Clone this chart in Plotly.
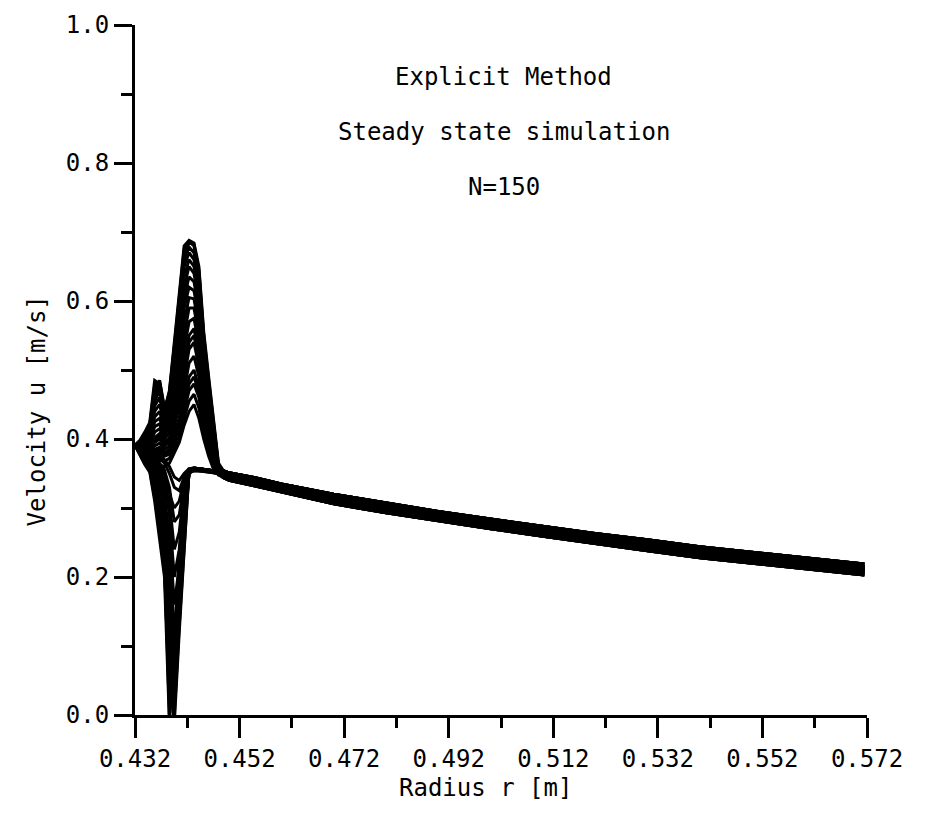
import plotly.graph_objects as go

# ---------------- data ----------------
# radial grid near the inlet (oscillating zone) and the far field
r_head = [0.43200, 0.43294, 0.43388, 0.43482, 0.43576, 0.43670, 0.43764, 0.43858,
          0.43952, 0.44046, 0.44140, 0.44234, 0.44328, 0.44422, 0.44515, 0.44609,
          0.44703, 0.44797]
r_tail = [0.44891, 0.4500, 0.4550, 0.4600, 0.4700, 0.4800, 0.4900, 0.5000, 0.5100,
          0.5200, 0.5300, 0.5400, 0.5500, 0.5600, 0.5715]

# far-field velocity bands (top .. bottom of the thick line)
tail_T1 = [0.354, 0.351, 0.344, 0.335, 0.320, 0.307, 0.295, 0.284, 0.273, 0.263, 0.254, 0.244, 0.236, 0.228, 0.219]
tail_T2 = [0.351, 0.348, 0.341, 0.332, 0.316, 0.303, 0.291, 0.281, 0.270, 0.259, 0.250, 0.240, 0.232, 0.224, 0.215]
tail_T3 = [0.349, 0.346, 0.338, 0.329, 0.313, 0.300, 0.288, 0.277, 0.266, 0.255, 0.246, 0.236, 0.228, 0.220, 0.211]
tail_T4 = [0.347, 0.343, 0.335, 0.326, 0.310, 0.297, 0.284, 0.273, 0.262, 0.251, 0.242, 0.232, 0.224, 0.216, 0.207]
tail_T5 = [0.344, 0.340, 0.332, 0.323, 0.306, 0.293, 0.281, 0.270, 0.259, 0.248, 0.238, 0.228, 0.220, 0.212, 0.203]

# snapshots with an overshoot near the inlet
head_P1 = [0.391, 0.398, 0.410, 0.424, 0.485, 0.480, 0.440, 0.470, 0.540, 0.610, 0.680, 0.688, 0.684, 0.650, 0.555, 0.490, 0.425, 0.365]
head_P10 = [0.391, 0.397, 0.408, 0.421, 0.478, 0.484, 0.442, 0.468, 0.535, 0.605, 0.675, 0.687, 0.682, 0.645, 0.550, 0.485, 0.420, 0.362]
head_P2 = [0.391, 0.396, 0.405, 0.418, 0.470, 0.485, 0.445, 0.465, 0.530, 0.600, 0.670, 0.686, 0.680, 0.640, 0.545, 0.480, 0.415, 0.360]
head_P17 = [0.391, 0.395, 0.402, 0.415, 0.462, 0.478, 0.438, 0.460, 0.520, 0.590, 0.660, 0.678, 0.670, 0.630, 0.538, 0.472, 0.410, 0.359]
head_P3 = [0.391, 0.394, 0.400, 0.412, 0.455, 0.470, 0.430, 0.455, 0.510, 0.580, 0.650, 0.670, 0.660, 0.620, 0.530, 0.465, 0.405, 0.358]
head_P11 = [0.391, 0.393, 0.398, 0.408, 0.448, 0.460, 0.425, 0.448, 0.500, 0.565, 0.635, 0.660, 0.650, 0.610, 0.522, 0.458, 0.400, 0.357]
head_P4 = [0.391, 0.392, 0.396, 0.405, 0.440, 0.450, 0.420, 0.440, 0.490, 0.550, 0.620, 0.650, 0.640, 0.600, 0.515, 0.450, 0.395, 0.356]
head_P18 = [0.391, 0.392, 0.394, 0.400, 0.432, 0.440, 0.415, 0.432, 0.480, 0.535, 0.605, 0.635, 0.628, 0.588, 0.508, 0.445, 0.392, 0.355]
head_P5 = [0.391, 0.390, 0.392, 0.398, 0.425, 0.430, 0.410, 0.425, 0.470, 0.520, 0.590, 0.620, 0.615, 0.575, 0.500, 0.440, 0.390, 0.355]
head_P12 = [0.391, 0.389, 0.390, 0.395, 0.418, 0.422, 0.405, 0.418, 0.460, 0.505, 0.570, 0.605, 0.603, 0.562, 0.490, 0.432, 0.385, 0.354]
head_P6 = [0.391, 0.388, 0.388, 0.392, 0.410, 0.415, 0.400, 0.410, 0.450, 0.490, 0.550, 0.590, 0.590, 0.550, 0.480, 0.425, 0.380, 0.354]
head_P13 = [0.391, 0.387, 0.386, 0.389, 0.402, 0.408, 0.395, 0.402, 0.440, 0.475, 0.530, 0.570, 0.575, 0.535, 0.470, 0.418, 0.376, 0.353]
head_P19 = [0.391, 0.388, 0.386, 0.387, 0.398, 0.404, 0.392, 0.398, 0.425, 0.452, 0.500, 0.540, 0.550, 0.512, 0.455, 0.407, 0.370, 0.352]
head_P7 = [0.391, 0.386, 0.384, 0.386, 0.395, 0.400, 0.390, 0.395, 0.430, 0.460, 0.510, 0.550, 0.560, 0.520, 0.460, 0.410, 0.372, 0.352]
head_P15 = [0.391, 0.386, 0.382, 0.383, 0.390, 0.394, 0.385, 0.390, 0.420, 0.445, 0.490, 0.530, 0.540, 0.505, 0.450, 0.404, 0.369, 0.351]
head_P8 = [0.391, 0.385, 0.380, 0.380, 0.385, 0.388, 0.380, 0.385, 0.410, 0.430, 0.470, 0.510, 0.520, 0.490, 0.440, 0.398, 0.366, 0.350]
head_P16 = [0.391, 0.383, 0.377, 0.378, 0.382, 0.384, 0.378, 0.382, 0.402, 0.420, 0.455, 0.490, 0.500, 0.475, 0.430, 0.392, 0.363, 0.350]
head_P20 = [0.391, 0.385, 0.379, 0.377, 0.380, 0.382, 0.377, 0.380, 0.398, 0.415, 0.448, 0.480, 0.490, 0.468, 0.425, 0.388, 0.362, 0.349]
head_P9 = [0.391, 0.384, 0.378, 0.375, 0.378, 0.380, 0.375, 0.378, 0.395, 0.410, 0.440, 0.470, 0.480, 0.460, 0.420, 0.385, 0.360, 0.349]
head_P21 = [0.391, 0.384, 0.377, 0.372, 0.371, 0.370, 0.368, 0.372, 0.388, 0.402, 0.430, 0.455, 0.465, 0.445, 0.410, 0.380, 0.358, 0.348]
head_P14 = [0.391, 0.384, 0.376, 0.370, 0.365, 0.362, 0.360, 0.365, 0.380, 0.395, 0.420, 0.440, 0.450, 0.430, 0.400, 0.375, 0.356, 0.348]

# snapshots with an undershoot near the inlet
head_D1 = [0.391, 0.376, 0.363, 0.352, 0.310, 0.255, 0.200, -0.012, 0.110, 0.230, 0.330, 0.352, 0.354, 0.354, 0.353, 0.352, 0.351, 0.350]
head_D9 = [0.391, 0.377, 0.364, 0.354, 0.316, 0.265, 0.212, 0.030, 0.095, 0.215, 0.325, 0.351, 0.354, 0.354, 0.353, 0.352, 0.351, 0.350]
head_D2 = [0.391, 0.378, 0.366, 0.356, 0.322, 0.275, 0.225, 0.000, 0.080, 0.200, 0.320, 0.350, 0.355, 0.355, 0.354, 0.353, 0.352, 0.351]
head_D10 = [0.391, 0.379, 0.368, 0.358, 0.328, 0.285, 0.238, 0.090, 0.000, 0.130, 0.250, 0.354, 0.355, 0.355, 0.354, 0.353, 0.352, 0.351]
head_D3 = [0.391, 0.380, 0.370, 0.360, 0.335, 0.295, 0.250, 0.060, -0.012, 0.120, 0.240, 0.356, 0.356, 0.355, 0.354, 0.353, 0.352, 0.351]
head_D11 = [0.391, 0.381, 0.371, 0.362, 0.340, 0.305, 0.262, 0.150, 0.040, 0.150, 0.270, 0.351, 0.356, 0.356, 0.355, 0.354, 0.353, 0.352]
head_D4 = [0.391, 0.382, 0.373, 0.364, 0.345, 0.315, 0.275, 0.120, 0.020, 0.140, 0.260, 0.352, 0.356, 0.356, 0.355, 0.354, 0.353, 0.352]
head_D12 = [0.391, 0.383, 0.375, 0.366, 0.350, 0.322, 0.288, 0.210, 0.090, 0.175, 0.290, 0.351, 0.357, 0.357, 0.356, 0.355, 0.354, 0.352]
head_D5 = [0.391, 0.384, 0.376, 0.368, 0.355, 0.330, 0.300, 0.180, 0.060, 0.160, 0.280, 0.350, 0.357, 0.357, 0.356, 0.355, 0.354, 0.352]
head_D13 = [0.391, 0.385, 0.378, 0.370, 0.358, 0.338, 0.310, 0.265, 0.160, 0.215, 0.310, 0.353, 0.357, 0.357, 0.356, 0.355, 0.354, 0.353]
head_D6 = [0.391, 0.386, 0.380, 0.372, 0.362, 0.345, 0.320, 0.240, 0.120, 0.190, 0.300, 0.352, 0.357, 0.357, 0.356, 0.355, 0.354, 0.353]
head_D14 = [0.391, 0.387, 0.382, 0.374, 0.365, 0.350, 0.330, 0.310, 0.240, 0.265, 0.328, 0.355, 0.358, 0.357, 0.356, 0.355, 0.354, 0.353]
head_D7 = [0.391, 0.388, 0.383, 0.376, 0.368, 0.355, 0.340, 0.290, 0.200, 0.240, 0.320, 0.354, 0.358, 0.357, 0.356, 0.355, 0.354, 0.353]
head_D8 = [0.391, 0.389, 0.386, 0.380, 0.374, 0.365, 0.355, 0.330, 0.280, 0.290, 0.335, 0.356, 0.358, 0.357, 0.356, 0.355, 0.354, 0.353]
head_D15 = [0.391, 0.388, 0.384, 0.378, 0.370, 0.360, 0.348, 0.320, 0.300, 0.310, 0.340, 0.355, 0.357, 0.357, 0.356, 0.355, 0.354, 0.353]
head_D16 = [0.391, 0.389, 0.387, 0.383, 0.378, 0.372, 0.365, 0.350, 0.330, 0.325, 0.345, 0.356, 0.358, 0.357, 0.356, 0.355, 0.354, 0.353]
head_D17 = [0.391, 0.390, 0.388, 0.385, 0.381, 0.376, 0.370, 0.360, 0.345, 0.340, 0.350, 0.357, 0.358, 0.357, 0.356, 0.355, 0.354, 0.353]

snapshots = [
    (head_P1, tail_T1), (head_P10, tail_T1), (head_P2, tail_T2), (head_P17, tail_T2),
    (head_P3, tail_T3), (head_P11, tail_T3), (head_P4, tail_T2), (head_P18, tail_T3),
    (head_P5, tail_T4), (head_P12, tail_T4), (head_P6, tail_T3), (head_P13, tail_T2),
    (head_P19, tail_T4), (head_P7, tail_T5), (head_P15, tail_T3), (head_P8, tail_T4),
    (head_P16, tail_T2), (head_P20, tail_T2), (head_P9, tail_T3), (head_P21, tail_T3),
    (head_P14, tail_T5),
    (head_D1, tail_T5), (head_D9, tail_T5), (head_D2, tail_T4), (head_D10, tail_T3),
    (head_D3, tail_T3), (head_D11, tail_T2), (head_D4, tail_T2), (head_D12, tail_T1),
    (head_D5, tail_T1), (head_D13, tail_T4), (head_D6, tail_T2), (head_D14, tail_T3),
    (head_D7, tail_T3), (head_D8, tail_T4), (head_D15, tail_T2), (head_D16, tail_T1),
    (head_D17, tail_T3),
]

x_ticks = [0.432, 0.452, 0.472, 0.492, 0.512, 0.532, 0.552, 0.572]
y_ticks = [0.0, 0.2, 0.4, 0.6, 0.8, 1.0]
title_lines = ["Explicit Method", "Steady state simulation", "N=150"]
title_y = [0.925, 0.845, 0.765]

# ---------------- figure ----------------
FONT = "DejaVu Sans Mono"
fig = go.Figure()
r_all = r_head + r_tail
for head, tail in snapshots:
    fig.add_trace(go.Scatter(x=r_all, y=head + tail, mode="lines",
                             line=dict(color="black", width=3.0),
                             showlegend=False, hoverinfo="skip"))

for txt, yy in zip(title_lines, title_y):
    fig.add_annotation(x=0.5025, y=yy, xref="x", yref="y", text=txt,
                       showarrow=False, font=dict(family=FONT, size=24, color="black"))

fig.add_annotation(x=0.499, y=0, xref="x", yref="y", text="Radius r [m]",
                   showarrow=False, yshift=-73, yanchor="middle",
                   font=dict(family=FONT, size=24, color="black"))
fig.add_annotation(x=0.432, y=0.44, xref="x", yref="y", text="Velocity u [m/s]",
                   showarrow=False, xshift=-98, textangle=-90,
                   font=dict(family=FONT, size=24, color="black"))

fig.update_layout(
    width=945, height=815,
    margin=dict(l=135, r=78, t=25, b=100),
    paper_bgcolor="white", plot_bgcolor="white",
    font=dict(family=FONT, size=24, color="black"),
    xaxis=dict(range=[0.432, 0.572], tickvals=x_ticks, tickformat=".3f",
               showline=True, linecolor="black", linewidth=3,
               ticks="outside", ticklen=20, tickwidth=2.5, tickcolor="black",
               minor=dict(dtick=0.01, tick0=0.432, ticks="outside", ticklen=10,
                          tickwidth=2.5, tickcolor="black"),
               showgrid=False, zeroline=False, mirror=False),
    yaxis=dict(range=[0.0, 1.0], tickvals=y_ticks, tickformat=".1f",
               showline=True, linecolor="black", linewidth=3,
               ticks="outside", ticklen=18, tickwidth=2.5, tickcolor="black",
               minor=dict(dtick=0.1, tick0=0.0, ticks="outside", ticklen=11,
                          tickwidth=2.5, tickcolor="black"),
               showgrid=False, zeroline=False, mirror=False),
)

fig.write_html("out.html")
